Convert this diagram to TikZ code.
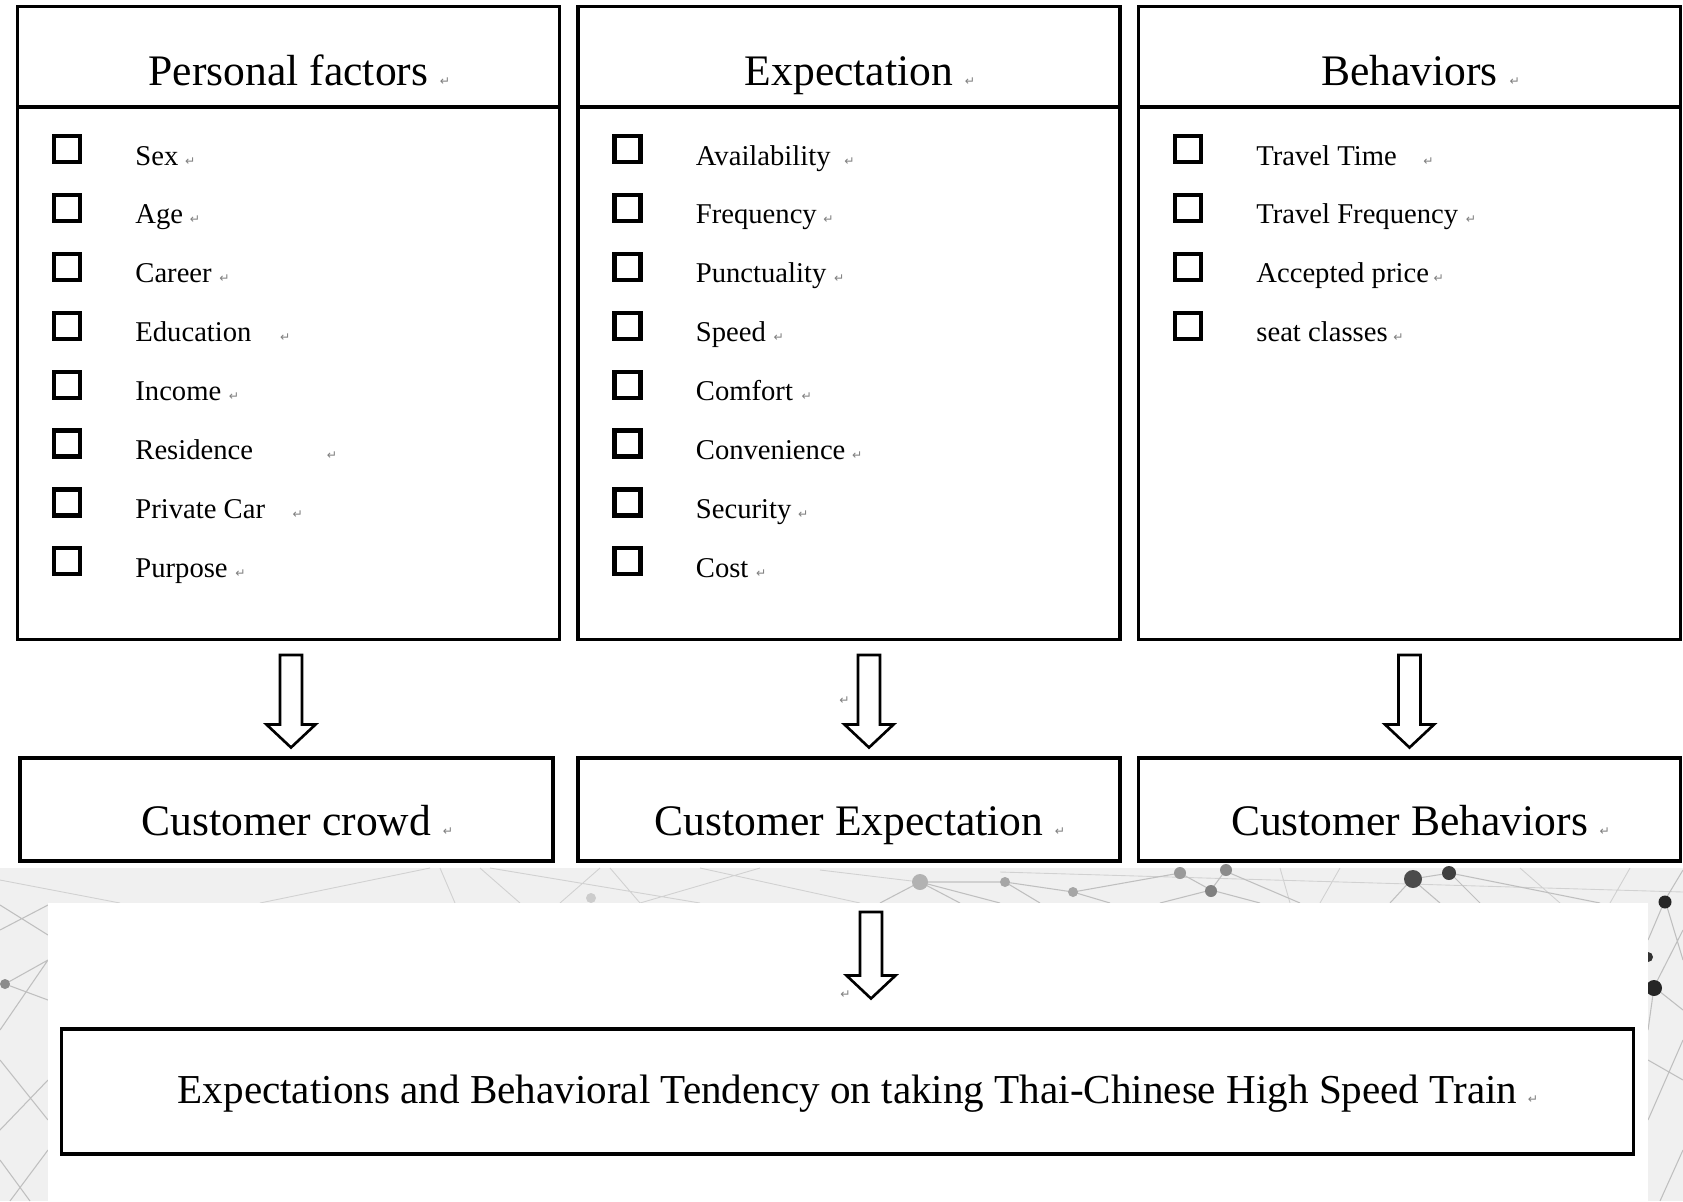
\documentclass[tikz,border=0pt]{standalone}
\usepackage{fontspec}
\setmainfont{Liberation Serif}
\newfontfamily\markfont{DejaVu Sans}
\usetikzlibrary{calc}
\newcommand\hollowarrow[2]{%
    \draw[hollow] ($(#1)+(-11,0)$) -- ($(#2)+(-11,-23)$) -- ($(#2)+(-24.5,-23)$) -- (#2)
        -- ($(#2)+(24.5,-23)$) -- ($(#2)+(11,-23)$) -- ($(#1)+(11,0)$) -- cycle;}
\begin{document}
\begin{tikzpicture}[x=0.02cm, y=-0.02cm,
    colbox/.style={draw, line width=1.8pt, minimum width=10.84cm, minimum height=12.66cm, inner sep=0pt, outer sep=0pt},
    resbox/.style={draw, fill=white, line width=1.8pt, minimum height=2.06cm, inner sep=0pt, outer sep=0pt},
    title/.style={font=\fontsize{24.8}{30}\selectfont, anchor=base, inner sep=0pt},
    chk/.style={draw, line width=2.4pt, minimum size=0.52cm, inner sep=0pt},
    itm/.style={font=\fontsize{16.3}{20}\selectfont, anchor=base west, inner sep=0pt},
    pmk/.style={font=\markfont\fontsize{7}{8}\selectfont, text=black!50, anchor=base west, inner sep=0pt},
    hollow/.style={draw, fill=white, line width=1.5pt, line join=miter}]
    \useasboundingbox (0,0) rectangle (1683,1201);
    \fill[black!6] (0,868) rectangle (1683,1201);
    \draw[black!18, line width=0.5pt] (0,880) -- (120,903) (260,903) -- (430,868) (440,868) -- (455,903)
        (480,868) -- (520,903) (490,868) -- (700,903) (560,903) -- (600,868) (610,868) -- (640,903)
        (640,903) -- (760,868) (700,868) -- (860,903) (820,870) -- (920,882) (1000,872) -- (1683,892)
        (1280,868) -- (1290,903) (1340,868) -- (1320,903) (1520,868) -- (1560,903) (1630,868) -- (1610,903);
    \draw[black!25, line width=0.6pt] (880,903) -- (920,882) -- (960,903) (920,882) -- (1005,882) -- (1073,892)
        (920,882) -- (1000,903) (1005,882) -- (1040,903) (1073,892) -- (1110,903) (1073,892) -- (1180,873)
        -- (1211,890) -- (1225,871) -- (1300,903) (1211,890) -- (1260,903) (1211,890) -- (1160,903)
        (1412,879) -- (1390,903) (1412,879) -- (1440,903) (1412,879) -- (1450,873) -- (1480,903)
        (1450,873) -- (1600,903) (1665,900) -- (1683,870) (1665,900) -- (1648,940) (1665,900) -- (1683,960)
        (1654,987) -- (1683,1010) (1654,987) -- (1648,1030) (1654,987) -- (1683,930) (1648,1060) -- (1683,1080)
        (1648,1120) -- (1683,1040) (1660,1201) -- (1683,1150)
        (5,984) -- (48,1000) (5,984) -- (48,960) (0,930) -- (48,905) (0,905) -- (48,935) (0,1030) -- (48,960)
        (0,1060) -- (48,1120) (0,1130) -- (48,1080) (10,1201) -- (48,1150) (0,1160) -- (30,1201);
    \foreach \x/\y/\r/\c in {920/882/8/30, 1005/882/5/35, 1073/892/5/35, 1180/873/6/40, 1226/870/6/45,
        1211/891/6/50, 1413/879/9/70, 1449/873/7/75, 1665/902/6.5/85, 1654/988/8/85, 1648/957/5/80,
        5/984/5/45, 591/898/5/20}
        \fill[black!\c] (\x,\y) circle[radius=\r];
    \fill[white] (48,903) rectangle (1648,1201);
    \node[colbox] (pf) at (288.5,323) {};
    \node[colbox] (ex) at (849,323) {};
    \node[colbox] (bh) at (1409.5,323) {};
    \foreach \b in {pf,ex,bh}
        \draw[line width=1.8pt] ($(\b.north west)+(0,100.5)$) -- ($(\b.north east)+(0,100.5)$);
    \node[title] (pft) at ($(pf.north)+(0,78.5)$) {Personal factors};
    \node[title] (ext) at ($(ex.north)+(0,78.5)$) {Expectation};
    \node[title] (bht) at ($(bh.north)+(0,78.5)$) {Behaviors};
    \foreach \t in {pft,ext,bht}
        \node[pmk] at ($(\t.base east)+(11,0)$) {↵};
    \foreach \txt/\g [count=\i] in {Sex/6, Age/6, Career/7, Education/28, Income/7, Residence/73, Private Car/27, Purpose/7} {
        \node[chk] (pfc\i) at ($(pf.north west)+(49.5,142.5+58.9*\i-58.9)$) {};
        \node[itm] (pfi\i) at ($(pfc\i.center)+(68,16)$) {\txt};
        \node[pmk] at ($(pfi\i.base east)+(\g,0)$) {↵};
    }
    \foreach \txt/\g [count=\i] in {Availability/13, Frequency/6, Punctuality/7, Speed/7, Comfort/8, Convenience/6, Security/6, Cost/7} {
        \node[chk] (exc\i) at ($(ex.north west)+(49.5,142.5+58.9*\i-58.9)$) {};
        \node[itm] (exi\i) at ($(exc\i.center)+(68,16)$) {\txt};
        \node[pmk] at ($(exi\i.base east)+(\g,0)$) {↵};
    }
    \foreach \txt/\g [count=\i] in {Travel Time/26, Travel Frequency/7, Accepted price/4, seat classes/5} {
        \node[chk] (bhc\i) at ($(bh.north west)+(49.5,142.5+58.9*\i-58.9)$) {};
        \node[itm] (bhi\i) at ($(bhc\i.center)+(68,16)$) {\txt};
        \node[pmk] at ($(bhi\i.base east)+(\g,0)$) {↵};
    }
    \node[resbox, minimum width=10.66cm] (cc) at (286.5,809.5) {};
    \node[resbox, minimum width=10.84cm] (ce) at (849,809.5) {};
    \node[resbox, minimum width=10.84cm] (cb) at (1409.5,809.5) {};
    \node[title] (cct) at ($(cc.south)+(0,-26)$) {Customer crowd};
    \node[title] (cet) at ($(ce.south)+(0,-26)$) {Customer Expectation};
    \node[title] (cbt) at ($(cb.south)+(0,-26)$) {Customer Behaviors};
    \foreach \t in {cct,cet,cbt}
        \node[pmk] at ($(\t.base east)+(11,0)$) {↵};
    \node[resbox, minimum width=31.46cm, minimum height=2.5cm] (tr) at (847.5,1091.5) {};
    \node[title, font=\fontsize{23.4}{28}\selectfont] (trt) at ($(tr.south)+(0,-51)$) {Expectations and Behavioral Tendency on taking Thai-Chinese High Speed Train};
    \node[pmk] at ($(trt.base east)+(10,0)$) {↵};
    \coordinate (a1s) at ($(pf.south)+(2.5,15.5)$);
    \coordinate (a1e) at ($(cc.north)+(4.5,-10.5)$);
    \coordinate (a2s) at ($(ex.south)+(20,15.5)$);
    \coordinate (a2e) at ($(ce.north)+(20,-10.5)$);
    \coordinate (a3s) at ($(bh.south)+(0,15.5)$);
    \coordinate (a3e) at ($(cb.north)+(0,-10.5)$);
    \coordinate (a4s) at ($(ce.south)+(22,51)$);
    \coordinate (a4e) at ($(tr.north)+(23.5,-30.5)$);
    \hollowarrow{a1s}{a1e}
    \hollowarrow{a2s}{a2e}
    \hollowarrow{a3s}{a3e}
    \hollowarrow{a4s}{a4e}
    \node[pmk] at (839,704) {↵};
    \node[pmk] at (840,998) {↵};
\end{tikzpicture}
\end{document}
